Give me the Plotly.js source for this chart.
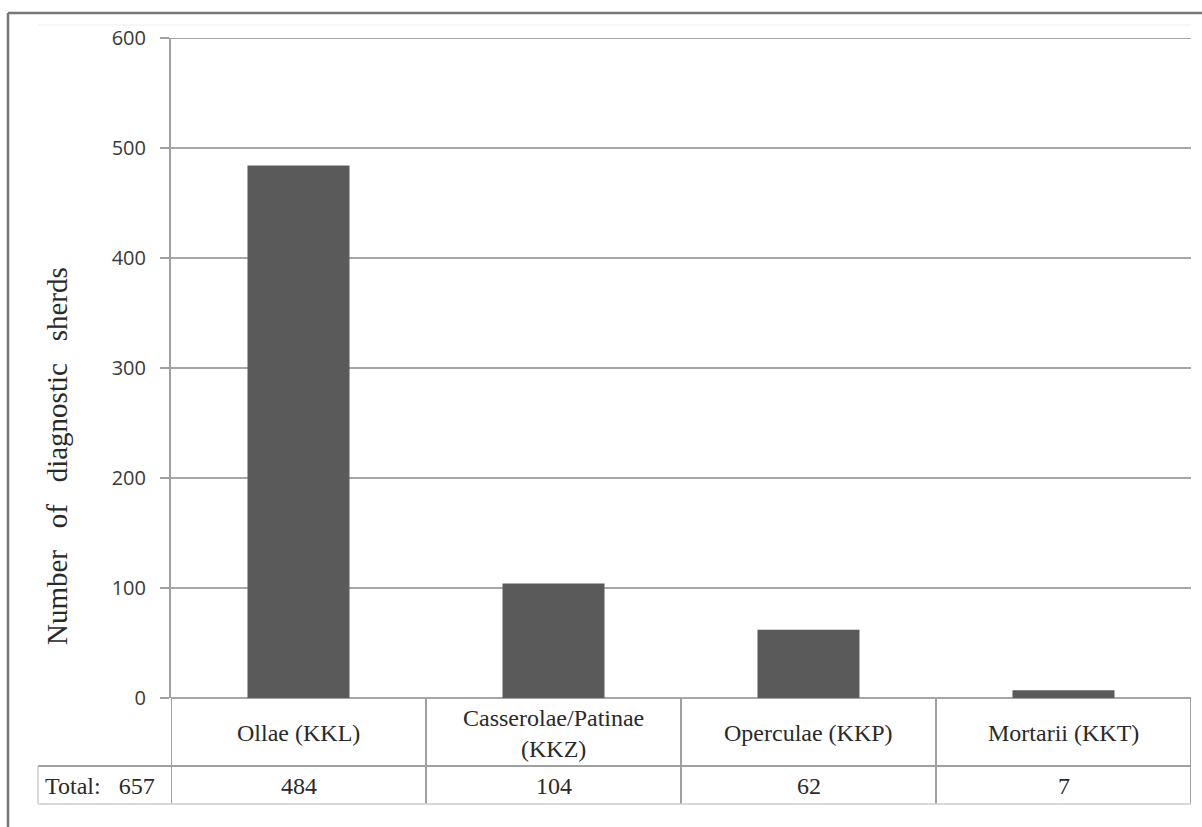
<!DOCTYPE html>
<html><head><meta charset="utf-8">
<script src="https://cdn.plot.ly/plotly-3.0.1.min.js"></script>
<style>body{margin:0;background:#fff}#c{width:1202px;height:827px}</style>
</head><body><div id="c"></div>
<script>
const categories = ["Ollae (KKL)", "Casserolae/Patinae<br>(KKZ)", "Operculae (KKP)", "Mortarii (KKT)"];
const counts = [484, 104, 62, 7];
const yTicks = [0, 100, 200, 300, 400, 500, 600];
const yTitle = "Number\u00a0\u00a0\u00a0of\u00a0\u00a0\u00a0diagnostic\u00a0\u00a0\u00a0sherds";
const totalLabel = "Total:";

const total = counts.reduce((a, b) => a + b, 0);
const xs = categories.map((_, i) => i);
const serif = "Liberation Serif, Times New Roman, serif";
const gridC = "#a6a6a6";
const lineC = "#a0a0a0";
const textC = "#2a2a2a";

// pixel helpers (plot: left 171, right 1191, top 38, bottom 698)
const px = x => (x - 171) / 1020;
const py = y => (698 - y) / 660;

const shapes = [];
// top gridline (at the range edge)
shapes.push({type: "line", xref: "paper", yref: "y", x0: 0, x1: 1, y0: yTicks[yTicks.length - 1], y1: yTicks[yTicks.length - 1], line: {color: gridC, width: 2}});
// category table vertical lines
for (let i = 0; i <= categories.length; i++) {
  shapes.push({type: "line", xref: "x", yref: "paper", x0: i - 0.5, x1: i - 0.5, y0: 0, y1: py(804), line: {color: lineC, width: 2}});
}
// horizontal table lines
shapes.push({type: "line", xref: "paper", yref: "paper", x0: px(38), x1: 1, y0: py(766), y1: py(766), line: {color: lineC, width: 2}});
shapes.push({type: "line", xref: "paper", yref: "paper", x0: px(38), x1: 1, y0: py(804), y1: py(804), line: {color: "#cccccc", width: 1.5}});
shapes.push({type: "line", xref: "paper", yref: "paper", x0: px(38), x1: px(38), y0: py(766), y1: py(804), line: {color: "#cccccc", width: 1.5}});
// faint top line
shapes.push({type: "line", xref: "paper", yref: "paper", x0: px(38), x1: 1, y0: py(25), y1: py(25), line: {color: "#ededed", width: 1}});
// outer frame
shapes.push({type: "line", xref: "paper", yref: "paper", x0: px(8), x1: px(1202), y0: py(13), y1: py(13), line: {color: "#777", width: 2.5}});
shapes.push({type: "line", xref: "paper", yref: "paper", x0: px(8), x1: px(8), y0: py(13), y1: py(827), line: {color: "#777", width: 2.5}});

const annotations = [];
categories.forEach((c, i) => {
  annotations.push({xref: "x", yref: "paper", x: i, y: py(733), text: c, showarrow: false,
    font: {family: serif, size: 24, color: textC}, xanchor: "center", yanchor: "middle"});
  annotations.push({xref: "x", yref: "paper", x: i, y: py(786), text: String(counts[i]), showarrow: false,
    font: {family: serif, size: 24, color: textC}, xanchor: "center", yanchor: "middle"});
});
annotations.push({xref: "paper", yref: "paper", x: px(43), y: py(786), text: totalLabel + "\u00a0\u00a0\u00a0" + total,
  showarrow: false, font: {family: serif, size: 24, color: textC}, xanchor: "left", yanchor: "middle"});
annotations.push({xref: "paper", yref: "paper", x: px(57), y: py(456), text: yTitle, textangle: -90,
  showarrow: false, font: {family: serif, size: 29, color: textC}, xanchor: "center", yanchor: "middle"});

Plotly.newPlot("c", [{
  type: "bar", x: xs, y: counts, marker: {color: "#5a5a5a"}, hoverinfo: "y"
}], {
  width: 1202, height: 827,
  margin: {l: 171, r: 11, t: 38, b: 129},
  paper_bgcolor: "#fff", plot_bgcolor: "#fff",
  bargap: 0.6,
  showlegend: false,
  xaxis: {range: [-0.5, categories.length - 0.5], showticklabels: false, ticks: "", showgrid: false, zeroline: false, showline: false, fixedrange: true},
  yaxis: {range: [0, 600], tickvals: yTicks, ticktext: yTicks.map(String), showgrid: true, gridcolor: gridC, gridwidth: 2,
    zeroline: true, zerolinecolor: gridC, zerolinewidth: 2,
    showline: true, linecolor: lineC, linewidth: 2,
    ticks: "outside", ticklen: 9, tickcolor: lineC, tickwidth: 2, ticklabelstandoff: 10,
    tickfont: {family: "Open Sans, DejaVu Sans, sans-serif", size: 20, color: "#3a3a3a"}, fixedrange: true},
  shapes: shapes,
  annotations: annotations
}, {displayModeBar: false, staticPlot: true});
</script>
</body></html>
